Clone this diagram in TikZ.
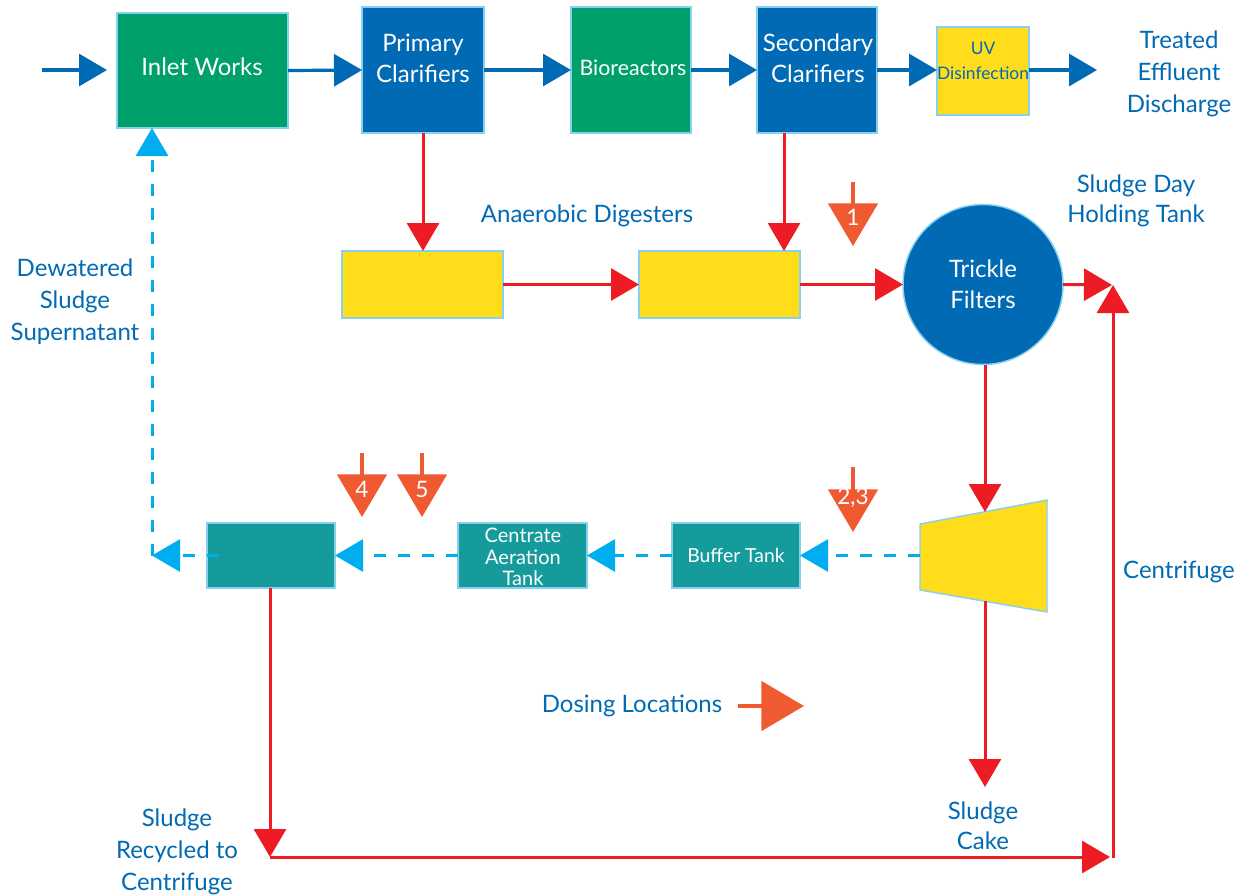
\documentclass[tikz,border=0pt]{standalone}
\usepackage{fontspec}
\setmainfont{Lato}
\usetikzlibrary{arrows.meta}
\definecolor{cgreen}{RGB}{0,160,108}
\definecolor{cblue}{RGB}{0,106,180}
\definecolor{cyellow}{RGB}{255,221,26}
\definecolor{cteal}{RGB}{22,155,157}
\definecolor{cborder}{RGB}{135,208,240}
\definecolor{cred}{RGB}{237,28,36}
\definecolor{corange}{RGB}{240,90,50}
\definecolor{ccyan}{RGB}{0,174,239}
\tikzset{
  box/.style={rectangle, draw=cborder, line width=1.1pt, inner sep=0pt, outer sep=0pt},
  lbl/.style={text=cblue, align=center, font=\fontsize{18}{24}\selectfont},
  wlbl/.style={text=white, align=center, font=\fontsize{18}{23.25}\selectfont},
  blarrow/.style={draw=cblue, line width=2.4pt, -{Triangle[length=21pt,width=24pt]}},
  redarrow/.style={draw=cred, line width=2.25pt, -{Triangle[length=21pt,width=24pt]}},
  dasharrow/.style={draw=ccyan, line width=2.25pt, dash pattern=on 9pt off 9pt, -{Triangle[length=21pt,width=24pt]}},
  doseline/.style={draw=corange, line width=3pt, -{Triangle[length=32pt,width=37pt]}},
  dosenum/.style={text=white, font=\fontsize{17}{17}\selectfont, inner sep=0pt},
}
\begin{document}
\begin{tikzpicture}[x=0.75pt,y=-0.75pt]
\useasboundingbox (0,0) rectangle (1242,894);

% top row boxes
\node[box, fill=cgreen, minimum width=171*0.75pt, minimum height=115*0.75pt] (iw) at (202.5,70.5) {};
\node[box, fill=cblue, minimum width=122*0.75pt, minimum height=126*0.75pt] (pc) at (423,70) {};
\node[box, fill=cgreen, minimum width=120*0.75pt, minimum height=126*0.75pt] (bio) at (631,70) {};
\node[box, fill=cblue, minimum width=120*0.75pt, minimum height=126*0.75pt] (sc) at (817,70) {};
\node[box, fill=cyellow, minimum width=92*0.75pt, minimum height=88*0.75pt] (uv) at (983,71) {};

\node[wlbl] (iwt) at (202,67) {Inlet Works};
\node[wlbl] (pct) at (423,58) {Primary\\Clarifiers};
\node[wlbl, font=\fontsize{16}{20}\selectfont] (biot) at (633,68) {Bioreactors};
\node[wlbl] (sct) at (818,58) {Secondary\\Clarifiers};
\node[lbl, font=\fontsize{13}{18.75}\selectfont] (uvt) at (983,61) {UV\\Disinfection};
\node[lbl] (tet) at (1179,74) {Treated\\Effluent\\Discharge};

% top row connectors
\coordinate (in0) at (42,70);
\coordinate (in1) at (107,70);
\coordinate (out1) at (1097,70);
\draw[blarrow] (in0) -- (in1);
\draw[blarrow] (iw.east) -- (pc.west);
\draw[blarrow] (pc.east) -- (bio.west);
\draw[blarrow] (bio.east) -- (sc.west);
\draw[blarrow] (sc.east) -- (uv.west |- sc.east);
\draw[blarrow] (uv.east |- sc.east) -- (out1);

% digesters
\node[box, fill=cyellow, minimum width=161*0.75pt, minimum height=67*0.75pt] (d1) at (422.5,284.5) {};
\node[box, fill=cyellow, minimum width=161*0.75pt, minimum height=67*0.75pt] (d2) at (719.5,284.5) {};
\node[lbl] (adt) at (587,216) {Anaerobic Digesters};

% trickle filters
\node[circle, fill=cblue, draw=cborder, line width=1.1pt, minimum size=160*0.75pt, inner sep=0pt, outer sep=0pt] (tf) at (983,284.5) {};
\node[wlbl] (tft) at (983,284) {Trickle\\Filters};
\node[lbl, font=\fontsize{18}{22.5}\selectfont] (sdt) at (1136,201) {Sludge Day\\Holding Tank};

\draw[redarrow] (pc.south) -- (d1.north -| pc.south);
\draw[redarrow] (sc.south -| 784,0) -- (d2.north -| 784,0);
\draw[redarrow] (d1.east) -- (d2.west);
\draw[redarrow] (d2.east) -- (tf.west);
\coordinate (hold) at (1112,285);
\coordinate (holdb) at (1113,285);
\draw[redarrow] (tf.east) -- (hold);

% centrifuge (trapezoid)
\coordinate (ctl) at (920,524);
\coordinate (ctr) at (1047,500);
\coordinate (cbr) at (1047,612);
\coordinate (cbl) at (920,590);
\coordinate (centtop) at (985,512);
\coordinate (centbot) at (985,601);
\coordinate (centleft) at (920,555.5);
\filldraw[fill=cyellow, draw=cborder, line width=1.1pt] (ctl) -- (ctr) -- (cbr) -- (cbl) -- cycle;
\node[lbl] (cft) at (1179,572) {Centrifuge};
\draw[redarrow] (tf.south -| centtop) -- (centtop);

% lower row boxes
\node[box, fill=cteal, minimum width=128*0.75pt, minimum height=65*0.75pt] (bt) at (736,555.5) {};
\node[box, fill=cteal, minimum width=129*0.75pt, minimum height=65*0.75pt] (cat) at (522.5,555.5) {};
\node[box, fill=cteal, minimum width=128*0.75pt, minimum height=65*0.75pt] (b3) at (271,555.5) {};
\node[wlbl, font=\fontsize{14.5}{18}\selectfont] (btt) at (736,555) {Buffer Tank};
\node[wlbl, font=\fontsize{15}{16}\selectfont] (catt) at (523,557) {Centrate\\Aeration\\Tank};

% dashed return line
\coordinate (b3in) at (219,555.5);
\coordinate (dl) at (152,555.5);
\draw[dasharrow] (centleft) -- (bt.east);
\draw[dasharrow] (bt.west) -- (cat.east);
\draw[dasharrow] (cat.west) -- (b3.east);
\draw[dasharrow] (b3in) -- (dl);
\draw[dasharrow] (dl) -- (iw.south -| dl);
\node[lbl] (dst) at (75,302) {Dewatered\\Sludge\\Supernatant};

% sludge cake and recycle
\coordinate (cake) at (985,787);
\coordinate (rec) at (270,857);
\coordinate (br) at (1110,857);
\coordinate (brv) at (1113,858);
\draw[redarrow] (centbot) -- (cake);
\node[lbl, font=\fontsize{18}{22.5}\selectfont] (sct2) at (983,826) {Sludge\\Cake};
\draw[redarrow] (b3.south -| rec) -- (rec);
\draw[redarrow] (rec) -- (br);
\draw[redarrow] (brv) -- (holdb);
\node[lbl] (srt) at (177,852) {Sludge\\Recycled to\\Centrifuge};

% dosing locations
\coordinate (q1a) at (853,182);  \coordinate (q1b) at (853,246);
\coordinate (q2a) at (853,467);  \coordinate (q2b) at (853,532);
\coordinate (q4a) at (362,453);  \coordinate (q4b) at (362,517);
\coordinate (q5a) at (422,453);  \coordinate (q5b) at (422,517);
\draw[doseline] (q1a) -- (q1b);
\draw[doseline] (q2a) -- (q2b);
\draw[doseline] (q4a) -- (q4b);
\draw[doseline] (q5a) -- (q5b);
\node[dosenum] (n1) at (853,217) {1};
\node[dosenum] (n2) at (853,498) {2,3};
\node[dosenum] (n4) at (362,489) {4};
\node[dosenum] (n5) at (422,489) {5};

\node[lbl] (dlt) at (632,706) {Dosing Locations};
\coordinate (lga) at (738,706);
\coordinate (lgb) at (804,706);
\draw[doseline] (lga) -- (lgb);
\end{tikzpicture}
\end{document}
